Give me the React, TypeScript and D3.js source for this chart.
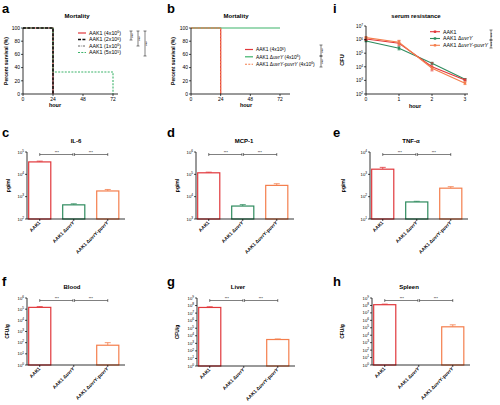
import React from 'react';
import * as d3 from 'd3';

const FONT = '"Liberation Sans", Arial, sans-serif';
const RED = '#e1373b';
const GREEN = '#2e8b5e';
const LGREEN = '#3cb36a';
const ORANGE = '#f47e4c';
const GRAY = '#555555';

// ---- Panel a: mortality by dose
const aDoseBase = ['4', '2', '1', '5'];
const aDoseExp = ['6', '6', '6', '5'];
const aHours = [[0, 24], [0, 24], [0, 24], [0, 24, 72]];
const aSurvival = [[100, 0], [100, 0], [100, 0], [100, 33.3, 0]];
const aColors = [RED, '#111111', GRAY, LGREEN];
const aDash = ['', '3,1.4', '2.2,1,0.6,1', '2,1.3'];
const aWidth = [1.2, 1.6, 0.9, 1.1];

// ---- Panel b: mortality by strain
const bStrains = ['AAK1', 'AAK1 ΔuvrY', 'AAK1 ΔuvrY-puvrY'];
const bHours = [[0, 24], [0, 72], [0, 24]];
const bSurvival = [[100, 0], [100, 100], [100, 0]];
const bColors = [RED, LGREEN, ORANGE];
const bDash = ['', '', '2,1.3'];

const survTicksX = [0, 24, 48, 72];
const survTicksY = [0, 20, 40, 60, 80, 100];

// ---- Panel i: serum resistance
const iHours = [0, 1, 2, 3];
const iAAK1 = [1.1e6, 5.4e5, 1.0e4, 1.07e3];
const iMutant = [8.0e5, 2.3e5, 1.8e4, 1.2e3];
const iComp = [1.4e6, 6.3e5, 7.8e3, 6.2e2];
const iAAK1Err = [0.1, 0.18, 0.3, 0.08];
const iMutantErr = [0.06, 0.12, 0.08, 0.06];
const iCompErr = [0.08, 0.15, 0.1, 0.1];

// ---- Bar panels
const barCats = ['AAK1', 'AAK1 ΔuvrY', 'AAK1 ΔuvrY-puvrY'];
const il6Values = [3.6e4, 4.3e2, 1.8e3];
const il6Upper = [3.9e4, 4.8e2, 2.1e3];
const mcpValues = [1.17e5, 3.8e3, 3.2e4];
const mcpUpper = [1.25e5, 4.4e3, 3.8e4];
const tnfValues = [1.7e3, 5.8e1, 2.4e2];
const tnfUpper = [2.05e3, 6.2e1, 2.8e2];
const bloodValues = [1.45e5, 0, 59];
const bloodUpper = [1.7e5, 0, 100];
const liverValues = [5.6e7, 0, 3.2e3];
const liverUpper = [7.0e7, 0, 3.8e3];
const spleenValues = [1.26e8, 0, 1.35e5];
const spleenUpper = [1.5e8, 0, 2.5e5];
const barColors = [RED, GREEN, ORANGE];

const Pow = ({ e }: { e: number | string }) => (
  <>
    10<tspan dy={-1.8} fontSize={3.2}>{e}</tspan>
  </>
);

const StrainLabel = ({ name }: { name: string }) => {
  const parts = name.split(/(uvrY)/);
  return (
    <>
      {parts.map((p, i) =>
        p === 'uvrY' ? (
          <tspan key={i} fontStyle="italic">{p}</tspan>
        ) : (
          <tspan key={i}>{p}</tspan>
        )
      )}
    </>
  );
};

function PanelLetter({ x, y, t }: { x: number; y: number; t: string }) {
  return (
    <text x={x} y={y} fontSize={13} fontWeight="bold" fontFamily={FONT}>
      {t}
    </text>
  );
}

function SurvivalPanel(props: {
  x0: number; x1: number; axisEnd: number; yTop: number; yBot: number;
  hours: number[][]; survival: number[][]; colors: string[]; dash: string[]; widths: number[];
  order: number[];
  title: string; titleX: number; ylabX: number; hourX: number;
  legend: React.ReactNode[]; legX: number; legY: number[]; legFont: number;
  brackets: { x: number; y0: number; y1: number }[];
}) {
  const x = d3.scaleLinear().domain([0, 72]).range([props.x0, props.x1]);
  const y = d3.scaleLinear().domain([0, 100]).range([props.yBot, props.yTop]);
  const line = d3.line<[number, number]>().x(d => x(d[0])).y(d => y(d[1])).curve(d3.curveStepAfter);
  return (
    <g fontFamily={FONT}>
      <text x={props.titleX} y={18} fontSize={6} fontWeight="bold" textAnchor="middle">{props.title}</text>
      {props.order.map(k => (
        <path key={k}
          d={line(props.hours[k].map((h, j) => [h, props.survival[k][j]] as [number, number])) || ''}
          fill="none" stroke={props.colors[k]} strokeWidth={props.widths[k]} strokeDasharray={props.dash[k]} />
      ))}
      <line x1={props.x0} x2={props.x0} y1={props.yTop} y2={props.yBot} stroke="#000" strokeWidth={0.8} />
      <line x1={props.x0} x2={props.axisEnd} y1={props.yBot} y2={props.yBot} stroke="#000" strokeWidth={0.8} />
      {survTicksY.map(t => (
        <g key={t}>
          <line x1={props.x0 - 2} x2={props.x0} y1={y(t)} y2={y(t)} stroke="#000" strokeWidth={0.7} />
          <text x={props.x0 - 3} y={y(t) + 1.7} fontSize={5} textAnchor="end">{t}</text>
        </g>
      ))}
      {survTicksX.map(t => (
        <g key={t}>
          <line x1={x(t)} x2={x(t)} y1={props.yBot} y2={props.yBot + 2} stroke="#000" strokeWidth={0.7} />
          <text x={x(t)} y={props.yBot + 7} fontSize={5} textAnchor="middle">{t}</text>
        </g>
      ))}
      <text x={props.hourX} y={props.yBot + 13} fontSize={5.5} fontWeight="bold" textAnchor="middle">hour</text>
      <text transform={`translate(${props.ylabX},${(props.yTop + props.yBot) / 2}) rotate(-90)`}
        fontSize={5} fontWeight="bold" textAnchor="middle">Percent survival (%)</text>
      {props.legend.map((lbl, k) => (
        <g key={k}>
          <line x1={props.legX} x2={props.legX + 8} y1={props.legY[k]} y2={props.legY[k]}
            stroke={props.colors[k]} strokeWidth={props.widths[k]} strokeDasharray={props.dash[k]} />
          <text x={props.legX + 11} y={props.legY[k] + 1.8} fontSize={props.legFont}>{lbl}</text>
        </g>
      ))}
      {props.brackets.map((b, k) => (
        <g key={k}>
          <line x1={b.x} x2={b.x} y1={b.y0} y2={b.y1} stroke="#000" strokeWidth={0.5} />
          <line x1={b.x - 1.5} x2={b.x + 1.5} y1={b.y0} y2={b.y0} stroke="#000" strokeWidth={0.5} />
          <line x1={b.x - 1.5} x2={b.x + 1.5} y1={b.y1} y2={b.y1} stroke="#000" strokeWidth={0.5} />
          <text transform={`translate(${b.x - 1.5},${(b.y0 + b.y1) / 2}) rotate(90)`} fontSize={4}
            textAnchor="middle">***</text>
        </g>
      ))}
    </g>
  );
}

function SerumPanel() {
  const x0 = 366;
  const x = d3.scaleLinear().domain([0, 3]).range([x0, 465]);
  const y = d3.scaleLog().domain([1e2, 1e7]).range([94, 26]);
  const series = [
    { v: iMutant, e: iMutantErr, c: GREEN, name: 'AAK1 ΔuvrY' },
    { v: iAAK1, e: iAAK1Err, c: RED, name: 'AAK1' },
    { v: iComp, e: iCompErr, c: ORANGE, name: 'AAK1 ΔuvrY-puvrY' },
  ];
  const legendOrder = [1, 0, 2];
  const legY = [31.7, 38.5, 45.3];
  const line = d3.line<number>().x((_, i) => x(iHours[i])).y(d => y(d));
  const yTicks = [2, 3, 4, 5, 6, 7];
  return (
    <g fontFamily={FONT}>
      <text x={416} y={18} fontSize={6} fontWeight="bold" textAnchor="middle">serum resistance</text>
      {series.map((s, k) => (
        <g key={k}>
          <path d={line(s.v) || ''} fill="none" stroke={s.c} strokeWidth={1.1} />
          {s.v.map((v, i) => {
            const lv = Math.log10(v);
            const yHi = y(Math.pow(10, lv + s.e[i]));
            const yLo = y(Math.pow(10, lv - s.e[i]));
            return (
              <g key={i}>
                <line x1={x(iHours[i])} x2={x(iHours[i])} y1={yHi} y2={yLo} stroke={s.c} strokeWidth={0.7} />
                <line x1={x(iHours[i]) - 1.5} x2={x(iHours[i]) + 1.5} y1={yHi} y2={yHi} stroke={s.c} strokeWidth={0.7} />
                <line x1={x(iHours[i]) - 1.5} x2={x(iHours[i]) + 1.5} y1={yLo} y2={yLo} stroke={s.c} strokeWidth={0.7} />
                <rect x={x(iHours[i]) - 1.2} y={y(v) - 1.2} width={2.4} height={2.4} fill={s.c} />
              </g>
            );
          })}
        </g>
      ))}
      <line x1={x0} x2={x0} y1={26} y2={94} stroke="#000" strokeWidth={0.8} />
      <line x1={x0} x2={468} y1={94} y2={94} stroke="#000" strokeWidth={0.8} />
      {yTicks.map(t => (
        <g key={t}>
          <line x1={x0 - 2} x2={x0} y1={y(Math.pow(10, t))} y2={y(Math.pow(10, t))} stroke="#000" strokeWidth={0.7} />
          <text x={x0 - 3} y={y(Math.pow(10, t)) + 1.7} fontSize={4.6} textAnchor="end"><Pow e={t} /></text>
        </g>
      ))}
      {iHours.map(t => (
        <g key={t}>
          <line x1={x(t)} x2={x(t)} y1={94} y2={96} stroke="#000" strokeWidth={0.7} />
          <text x={x(t)} y={101} fontSize={5} textAnchor="middle">{t}</text>
        </g>
      ))}
      <text x={415} y={108} fontSize={5.5} fontWeight="bold" textAnchor="middle">hour</text>
      <text transform={`translate(344,60) rotate(-90)`} fontSize={5.5} fontWeight="bold" textAnchor="middle">CFU</text>
      {legendOrder.map((k, r) => (
        <g key={k}>
          <line x1={430} x2={440} y1={legY[r]} y2={legY[r]} stroke={series[k].c} strokeWidth={1.1} />
          <rect x={433.8} y={legY[r] - 1.2} width={2.4} height={2.4} fill={series[k].c} />
          <text x={443} y={legY[r] + 1.9} fontSize={5.3}><StrainLabel name={series[k].name} /></text>
        </g>
      ))}
      {[{ y0: 30, y1: 40 }, { y0: 40, y1: 48 }].map((b, k) => (
        <g key={k}>
          <line x1={491} x2={491} y1={b.y0} y2={b.y1} stroke="#000" strokeWidth={0.5} />
          <line x1={489.5} x2={492.5} y1={b.y0} y2={b.y0} stroke="#000" strokeWidth={0.5} />
          <line x1={489.5} x2={492.5} y1={b.y1} y2={b.y1} stroke="#000" strokeWidth={0.5} />
          <text transform={`translate(489,${(b.y0 + b.y1) / 2}) rotate(90)`} fontSize={4} textAnchor="middle">***</text>
        </g>
      ))}
    </g>
  );
}

function BarPanel(props: {
  x0: number; yTop: number; yBot: number; minExp: number; maxExp: number;
  values: number[]; upper: number[]; title: string; ylabel: string;
  titleX: number; ylabX: number;
}) {
  const { x0, yTop, yBot, minExp, maxExp } = props;
  const x = d3.scaleBand<string>().domain(barCats).range([x0 + 1, x0 + 92.5]).paddingInner(0.35).paddingOuter(0.02);
  const y = d3.scaleLog().domain([Math.pow(10, minExp), Math.pow(10, maxExp)]).range([yBot, yTop]);
  const ticks = d3.range(minExp, maxExp + 1);
  const bw = x.bandwidth();
  const c = (k: number) => (x(barCats[k]) as number) + bw / 2;
  const by = yTop + 2.5;
  return (
    <g fontFamily={FONT}>
      <text x={props.titleX} y={yTop - 9} fontSize={6} fontWeight="bold" textAnchor="middle">{props.title}</text>
      {props.values.map((v, k) =>
        v > 0 ? (
          <g key={k}>
            <line x1={c(k)} x2={c(k)} y1={y(v)} y2={y(props.upper[k])} stroke={barColors[k]} strokeWidth={0.8} />
            <line x1={c(k) - 3} x2={c(k) + 3} y1={y(props.upper[k])} y2={y(props.upper[k])} stroke={barColors[k]} strokeWidth={0.8} />
            <rect x={x(barCats[k]) as number} y={y(v)} width={bw} height={yBot - y(v)}
              fill="#fff" stroke={barColors[k]} strokeWidth={1.2} />
          </g>
        ) : null
      )}
      <line x1={x0} x2={x0} y1={yTop} y2={yBot} stroke="#000" strokeWidth={0.8} />
      <line x1={x0} x2={x0 + 98} y1={yBot} y2={yBot} stroke="#000" strokeWidth={0.8} />
      {ticks.map(t => (
        <g key={t}>
          <line x1={x0 - 2} x2={x0} y1={y(Math.pow(10, t))} y2={y(Math.pow(10, t))} stroke="#000" strokeWidth={0.7} />
          <text x={x0 - 3} y={y(Math.pow(10, t)) + 1.5} fontSize={4.2} textAnchor="end"><Pow e={t} /></text>
        </g>
      ))}
      {barCats.map((cat, k) => (
        <g key={cat}>
          <line x1={c(k)} x2={c(k)} y1={yBot} y2={yBot + 2} stroke="#000" strokeWidth={0.7} />
          <text transform={`translate(${c(k) + 1},${yBot + 4}) rotate(-45)`} fontSize={4.8} fontWeight="bold"
            textAnchor="end"><StrainLabel name={cat} /></text>
        </g>
      ))}
      <text transform={`translate(${props.ylabX},${(yTop + yBot) / 2}) rotate(-90)`} fontSize={5} fontWeight="bold"
        textAnchor="middle">{props.ylabel}</text>
      {[[0, 1], [1, 2]].map(([a, b], k) => (
        <g key={k}>
          <line x1={c(a) + (k === 1 ? 0.8 : 0)} x2={c(b) - (k === 0 ? 0.8 : 0)} y1={by} y2={by} stroke="#000" strokeWidth={0.5} />
          <line x1={c(a) + (k === 1 ? 0.8 : 0)} x2={c(a) + (k === 1 ? 0.8 : 0)} y1={by - 1.5} y2={by + 1.5} stroke="#000" strokeWidth={0.5} />
          <line x1={c(b) - (k === 0 ? 0.8 : 0)} x2={c(b) - (k === 0 ? 0.8 : 0)} y1={by - 1.5} y2={by + 1.5} stroke="#000" strokeWidth={0.5} />
          <text x={(c(a) + c(b)) / 2} y={by - 0.5} fontSize={3.5} textAnchor="middle">***</text>
        </g>
      ))}
    </g>
  );
}

export default function App() {
  const aLegend = aDoseBase.map((b, k) => (
    <>AAK1 ({b}x10<tspan dy={-1.8} fontSize={3.5}>{aDoseExp[k]}</tspan><tspan dy={1.8}>)</tspan></>
  ));
  const bLegend = bStrains.map(s => (
    <><StrainLabel name={s} /> (4x10<tspan dy={-1.8} fontSize={3.4}>6</tspan><tspan dy={1.8}>)</tspan></>
  ));
  return (
    <svg width={500} height={405} style={{ position: 'absolute', left: 0, top: 0, background: '#fff' }}>
      <rect width={500} height={405} fill="#fff" />
      <PanelLetter x={2} y={13} t="a" />
      <PanelLetter x={167} y={13} t="b" />
      <PanelLetter x={333} y={13} t="i" />
      <PanelLetter x={2} y={137} t="c" />
      <PanelLetter x={167} y={137} t="d" />
      <PanelLetter x={333} y={137} t="e" />
      <PanelLetter x={2} y={286} t="f" />
      <PanelLetter x={167} y={286} t="g" />
      <PanelLetter x={333} y={286} t="h" />

      <SurvivalPanel x0={23} x1={113} axisEnd={118} yTop={28} yBot={94}
        hours={aHours} survival={aSurvival} colors={aColors} dash={aDash} widths={aWidth}
        order={[0, 2, 3, 1]} title="Mortality" titleX={77} ylabX={8} hourX={55}
        legend={aLegend} legX={78} legY={[33, 39.5, 46, 52.5]} legFont={5.3}
        brackets={[{ x: 131, y0: 31, y1: 40 }, { x: 138, y0: 31, y1: 46 }, { x: 145, y0: 31, y1: 56 }]} />

      <SurvivalPanel x0={191} x1={280} axisEnd={290} yTop={28} yBot={94}
        hours={bHours} survival={bSurvival} colors={bColors} dash={bDash} widths={[1.2, 1.2, 1.1]}
        order={[0, 1, 2]} title="Mortality" titleX={236} ylabX={175} hourX={246}
        legend={bLegend} legX={245} legY={[49.5, 56.8, 64.2]} legFont={4.9}
        brackets={[{ x: 321, y0: 45, y1: 56 }, { x: 321, y0: 56, y1: 67 }]} />

      <SerumPanel />

      <BarPanel x0={27} yTop={152} yBot={219} minExp={2} maxExp={5} values={il6Values} upper={il6Upper}
        title="IL-6" ylabel="pg/ml" titleX={76} ylabX={10} />
      <BarPanel x0={196} yTop={152} yBot={219} minExp={3} maxExp={6} values={mcpValues} upper={mcpUpper}
        title="MCP-1" ylabel="pg/ml" titleX={244} ylabX={179} />
      <BarPanel x0={370} yTop={152} yBot={219} minExp={1} maxExp={4} values={tnfValues} upper={tnfUpper}
        title="TNF-α" ylabel="pg/ml" titleX={411} ylabX={345} />
      <BarPanel x0={27} yTop={298} yBot={365} minExp={0} maxExp={6} values={bloodValues} upper={bloodUpper}
        title="Blood" ylabel="CFU/g" titleX={72} ylabX={9} />
      <BarPanel x0={197} yTop={298} yBot={366} minExp={0} maxExp={9} values={liverValues} upper={liverUpper}
        title="Liver" ylabel="CFU/g" titleX={238} ylabX={179} />
      <BarPanel x0={372} yTop={298} yBot={365} minExp={0} maxExp={9} values={spleenValues} upper={spleenUpper}
        title="Spleen" ylabel="CFU/g" titleX={409} ylabX={344} />
    </svg>
  );
}
